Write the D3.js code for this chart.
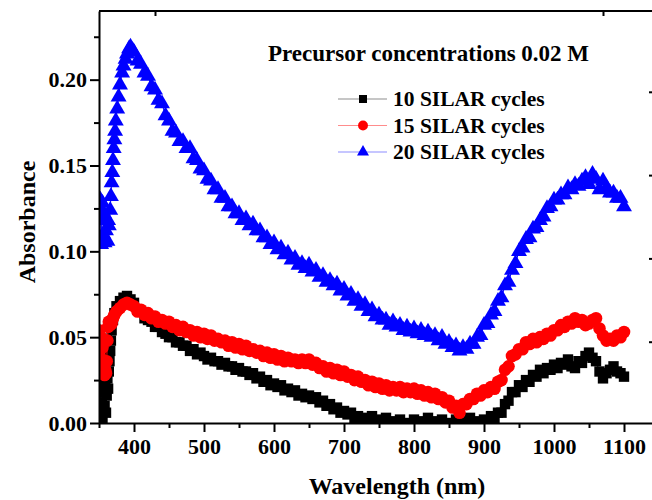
<!DOCTYPE html>
<html>
<head>
<meta charset="utf-8">
<script src="https://cdn.jsdelivr.net/npm/d3@7"></script>
<style>
  html, body { margin: 0; padding: 0; background: #fff; }
  svg { display: block; }
  text { font-family: "Liberation Serif", "Times New Roman", serif; font-weight: bold; fill: #000; }
</style>
</head>
<body>
<svg id="chart" width="652" height="500"></svg>
<script>
// Absorbance spectra (wavelength in nm, absorbance)
const cycles10 = [
  [350,0.008],[351,0.022],[352,0.004],[353,0.028],[354,0.012],[355,0.002],[356,0.018],[357,0.030],[358,0.010],[359,0.024],
  [360,0.006],[361,0.016],[362,0.026],[363,0.020],[364,0.030],[365,0.036],[366,0.042],[367,0.048],[368,0.054],[370,0.060],
  [372,0.064],[375,0.068],[380,0.071],[385,0.073],[390,0.074],[395,0.072],[400,0.070],[405,0.066],[410,0.065],[415,0.061],
  [420,0.060],[425,0.059],[430,0.056],[435,0.056],[440,0.053],[445,0.052],[450,0.050],[455,0.050],[460,0.047],[465,0.047],
  [470,0.045],[475,0.045],[480,0.042],[485,0.043],[490,0.040],[495,0.041],[500,0.039],[505,0.037],[510,0.038],[515,0.036],
  [520,0.036],[525,0.034],[530,0.035],[535,0.033],[540,0.033],[545,0.031],[550,0.032],[555,0.030],[560,0.030],[565,0.028],
  [570,0.029],[575,0.026],[580,0.027],[585,0.024],[590,0.025],[595,0.022],[600,0.023],[605,0.021],[610,0.022],[615,0.019],
  [620,0.020],[625,0.018],[630,0.019],[635,0.016],[640,0.017],[645,0.015],[650,0.016],[655,0.014],[660,0.015],[665,0.012],
  [670,0.013],[675,0.010],[680,0.011],[685,0.008],[690,0.009],[695,0.006],[700,0.007],[705,0.005],[710,0.006],[715,0.003],
  [720,0.004],[725,0.002],[730,0.003],[735,0.002],[740,0.004],[745,0.001],[750,0.002],[755,0.001],[760,0.003],[770,0.001],
  [780,0.002],[790,0.000],[800,0.002],[810,0.001],[820,0.003],[830,0.001],[840,0.002],[850,0.000],[860,0.002],[870,0.001],
  [880,0.003],[890,0.001],[900,0.002],[905,0.001],[910,0.004],[915,0.003],[920,0.006],[925,0.006],[930,0.011],[935,0.013],
  [940,0.018],[945,0.018],[950,0.022],[955,0.021],[960,0.025],[965,0.024],[970,0.028],[975,0.027],[980,0.031],[985,0.029],
  [990,0.032],[995,0.031],[1000,0.034],[1005,0.032],[1010,0.035],[1015,0.034],[1020,0.037],[1025,0.033],[1030,0.032],[1035,0.036],
  [1040,0.035],[1045,0.039],[1050,0.041],[1055,0.038],[1060,0.036],[1065,0.030],[1070,0.026],[1075,0.029],[1080,0.031],[1085,0.033],
  [1090,0.030],[1095,0.029],[1100,0.027]
];

const cycles15 = [
  [350,0.054],[351,0.046],[352,0.038],[353,0.050],[354,0.034],[355,0.044],[356,0.030],[357,0.036],[358,0.028],[359,0.031],
  [360,0.029],[361,0.036],[362,0.048],[363,0.056],[364,0.059],[366,0.057],[368,0.058],[370,0.061],[372,0.063],[375,0.065],
  [380,0.067],[385,0.069],[390,0.070],[395,0.069],[400,0.068],[405,0.065],[410,0.066],[415,0.063],[420,0.064],[425,0.061],
  [430,0.062],[435,0.059],[440,0.060],[445,0.058],[450,0.059],[455,0.056],[460,0.057],[465,0.054],[470,0.056],[475,0.053],
  [480,0.054],[485,0.051],[490,0.053],[495,0.050],[500,0.052],[505,0.049],[510,0.051],[515,0.048],[520,0.049],[525,0.047],
  [530,0.048],[535,0.045],[540,0.047],[545,0.044],[550,0.046],[555,0.043],[560,0.045],[565,0.042],[570,0.043],[575,0.041],
  [580,0.042],[585,0.039],[590,0.041],[595,0.038],[600,0.040],[605,0.037],[610,0.039],[615,0.036],[620,0.038],[625,0.036],
  [630,0.037],[635,0.035],[640,0.037],[645,0.035],[650,0.037],[655,0.034],[660,0.035],[665,0.032],[670,0.033],[675,0.030],
  [680,0.032],[685,0.029],[690,0.031],[695,0.028],[700,0.030],[705,0.027],[710,0.028],[715,0.025],[720,0.027],[725,0.024],
  [730,0.025],[735,0.022],[740,0.024],[745,0.021],[750,0.023],[755,0.020],[760,0.022],[765,0.019],[770,0.021],[775,0.019],
  [780,0.021],[785,0.018],[790,0.020],[795,0.018],[800,0.020],[805,0.017],[810,0.019],[815,0.016],[820,0.018],[825,0.015],
  [830,0.017],[835,0.014],[840,0.015],[845,0.012],[850,0.013],[855,0.009],[860,0.010],[865,0.006],[870,0.011],[875,0.011],
  [880,0.014],[885,0.014],[890,0.017],[895,0.016],[900,0.019],[905,0.018],[910,0.021],[915,0.020],[920,0.024],[925,0.025],
  [930,0.031],[935,0.033],[940,0.039],[945,0.040],[950,0.043],[955,0.043],[960,0.047],[965,0.046],[970,0.049],[975,0.047],
  [980,0.050],[985,0.049],[990,0.052],[995,0.051],[1000,0.054],[1005,0.054],[1010,0.057],[1015,0.056],[1020,0.059],[1025,0.058],
  [1030,0.061],[1035,0.059],[1040,0.060],[1045,0.057],[1050,0.058],[1055,0.060],[1060,0.061],[1065,0.055],[1070,0.051],[1075,0.048],
  [1080,0.049],[1085,0.048],[1090,0.051],[1095,0.050],[1100,0.053]
];

const cycles20 = [
  [350,0.125],[351,0.108],[352,0.130],[353,0.104],[354,0.118],[355,0.128],[356,0.110],[357,0.122],[358,0.105],[360,0.112],
  [362,0.106],[363,0.118],[364,0.115],[366,0.124],[367,0.132],[368,0.140],[369,0.146],[370,0.153],[371,0.160],[372,0.165],
  [373,0.170],[374,0.176],[376,0.183],[378,0.190],[380,0.197],[383,0.204],[385,0.208],[388,0.212],[390,0.215],[393,0.218],
  [395,0.219],[398,0.217],[400,0.216],[405,0.211],[410,0.209],[415,0.204],[420,0.202],[425,0.196],[430,0.194],[435,0.188],
  [440,0.186],[445,0.179],[450,0.176],[455,0.170],[460,0.169],[465,0.164],[470,0.164],[475,0.160],[480,0.160],[485,0.154],
  [490,0.153],[495,0.148],[500,0.147],[505,0.142],[510,0.141],[515,0.136],[520,0.136],[525,0.131],[530,0.131],[535,0.126],
  [540,0.126],[545,0.122],[550,0.122],[555,0.118],[560,0.119],[565,0.115],[570,0.116],[575,0.112],[580,0.112],[585,0.108],
  [590,0.108],[595,0.104],[600,0.105],[605,0.101],[610,0.102],[615,0.098],[620,0.099],[625,0.095],[630,0.096],[635,0.092],
  [640,0.093],[645,0.090],[650,0.092],[655,0.088],[660,0.089],[665,0.085],[670,0.086],[675,0.082],[680,0.083],[685,0.080],
  [690,0.081],[695,0.077],[700,0.078],[705,0.074],[710,0.075],[715,0.071],[720,0.072],[725,0.068],[730,0.069],[735,0.065],
  [740,0.066],[745,0.062],[750,0.063],[755,0.060],[760,0.060],[765,0.057],[770,0.059],[775,0.056],[780,0.057],[785,0.054],
  [790,0.056],[795,0.053],[800,0.055],[805,0.052],[810,0.054],[815,0.051],[820,0.053],[825,0.050],[830,0.051],[835,0.048],
  [840,0.050],[845,0.046],[850,0.047],[855,0.044],[860,0.045],[865,0.042],[870,0.044],[875,0.043],[880,0.046],[885,0.046],
  [890,0.050],[895,0.051],[900,0.057],[905,0.058],[910,0.063],[915,0.065],[920,0.071],[925,0.073],[930,0.080],[935,0.082],
  [940,0.089],[945,0.093],[950,0.100],[955,0.102],[960,0.107],[965,0.108],[970,0.113],[975,0.114],[980,0.118],[985,0.120],
  [990,0.125],[995,0.126],[1000,0.130],[1005,0.130],[1010,0.133],[1015,0.133],[1020,0.137],[1025,0.136],[1030,0.139],[1035,0.138],
  [1040,0.141],[1045,0.143],[1050,0.139],[1055,0.145],[1060,0.142],[1065,0.136],[1070,0.141],[1075,0.137],[1080,0.134],[1085,0.134],
  [1090,0.131],[1095,0.131],[1100,0.126]
];

const seriesNames = ["10 SILAR cycles", "15 SILAR cycles", "20 SILAR cycles"];
const seriesColors = ["#000000", "#ff0000", "#0000ff"];
const seriesShapes = ["square", "circle", "triangle"];
const xMajorTicks = [400, 500, 600, 700, 800, 900, 1000, 1100];
const xMinorTicks = [350, 450, 550, 650, 750, 850, 950, 1050];
const yMajorTicks = [0.00, 0.05, 0.10, 0.15, 0.20];
const yMinorTicks = [0.025, 0.075, 0.125, 0.175, 0.225];
const topTicks = [0, 1];
const rightTicks = [1, 2, 3, 4];
const chartTitle = "Precursor concentrations 0.02 M";
const xTitle = "Wavelength (nm)";
const yTitle = "Absorbance";

const svg = d3.select("#chart");
const plotLeft = 99, plotRight = 659, plotTop = 11, plotBottom = 423;

const x = d3.scaleLinear().domain([350, 1150]).range([plotLeft, plotRight]);
const y = d3.scaleLinear().domain([0, 0.24]).range([plotBottom, plotTop]);
// the frame's top and right edges carry their own (unlabelled) tick spacing
const xTop = d3.scaleLinear().domain([0, 1]).range([155, 603]);
const yRight = d3.scaleLinear().domain([0, 5]).range([425, 8.5]);

svg.append("clipPath").attr("id", "clip")
  .append("rect").attr("x", plotLeft).attr("y", plotTop)
  .attr("width", plotRight - plotLeft).attr("height", plotBottom - plotTop);

const symbolFor = {
  square: d3.symbol().type(d3.symbolSquare).size(108),
  circle: d3.symbol().type(d3.symbolCircle).size(125),
  triangle: d3.symbol().type(d3.symbolTriangle).size(110)
};
const legendSymbolFor = {
  square: d3.symbol().type(d3.symbolSquare).size(64),
  circle: d3.symbol().type(d3.symbolCircle).size(78),
  triangle: d3.symbol().type(d3.symbolTriangle).size(62)
};

const allSeries = [cycles10, cycles15, cycles20];
const line = d3.line().x(d => x(d[0])).y(d => y(d[1]));

const marks = svg.append("g").attr("clip-path", "url(#clip)");
allSeries.forEach((data, i) => {
  const g = marks.append("g");
  g.append("path").datum(data).attr("d", line)
    .attr("fill", "none").attr("stroke", seriesColors[i]).attr("stroke-width", 1);
  g.selectAll("path.pt").data(data).enter().append("path")
    .attr("class", "pt")
    .attr("transform", d => `translate(${x(d[0])},${y(d[1])})`)
    .attr("d", symbolFor[seriesShapes[i]]())
    .attr("fill", seriesColors[i]);
});

// Axes
function styleAxis(g) {
  g.selectAll(".domain").attr("stroke", "#000").attr("stroke-width", 2);
  g.selectAll(".tick line").attr("stroke", "#000").attr("stroke-width", 2);
  g.selectAll("text").style("font-size", "22px").attr("fill", "#000");
}
function styleMinor(g) {
  g.select(".domain").remove();
  g.selectAll(".tick line").attr("stroke", "#000").attr("stroke-width", 2);
}

const xAxis = svg.append("g").attr("transform", `translate(0,${plotBottom})`)
  .call(d3.axisBottom(x).tickValues(xMajorTicks).tickFormat(d3.format("d")).tickSizeInner(9).tickSizeOuter(0).tickPadding(6));
styleAxis(xAxis);
svg.append("g").attr("transform", `translate(0,${plotBottom})`)
  .call(d3.axisBottom(x).tickValues(xMinorTicks).tickFormat("").tickSizeInner(5).tickSizeOuter(0))
  .call(styleMinor);

const yAxis = svg.append("g").attr("transform", `translate(${plotLeft},0)`)
  .call(d3.axisLeft(y).tickValues(yMajorTicks).tickFormat(d3.format(".2f")).tickSizeInner(9).tickSizeOuter(0).tickPadding(3));
styleAxis(yAxis);
svg.append("g").attr("transform", `translate(${plotLeft},0)`)
  .call(d3.axisLeft(y).tickValues(yMinorTicks).tickFormat("").tickSizeInner(5).tickSizeOuter(0))
  .call(styleMinor);

// Frame: top and right edges with inward ticks
svg.append("line").attr("x1", plotLeft).attr("x2", plotRight).attr("y1", plotTop).attr("y2", plotTop)
  .attr("stroke", "#000").attr("stroke-width", 2);
svg.append("line").attr("x1", plotRight).attr("x2", plotRight).attr("y1", plotTop).attr("y2", plotBottom)
  .attr("stroke", "#000").attr("stroke-width", 2);
svg.append("g").attr("transform", `translate(0,${plotTop})`)
  .call(d3.axisTop(xTop).tickValues(topTicks).tickFormat("").tickSizeInner(-5).tickSizeOuter(0))
  .call(styleMinor);
svg.append("g").attr("transform", `translate(${plotRight},0)`)
  .call(d3.axisRight(yRight).tickValues(rightTicks).tickFormat("").tickSizeInner(-10).tickSizeOuter(0))
  .call(styleMinor);

// Titles
svg.append("text").attr("x", 397).attr("y", 494).attr("text-anchor", "middle")
  .style("font-size", "24px").text(xTitle);
svg.append("text").attr("transform", "translate(35,222) rotate(-90)").attr("text-anchor", "middle")
  .style("font-size", "24px").text(yTitle);
svg.append("text").attr("x", 268).attr("y", 61).style("font-size", "23px").text(chartTitle);

// Legend
const legend = svg.append("g");
seriesNames.forEach((name, i) => {
  const cy = 99 + i * 26.5;
  legend.append("line").attr("x1", 338).attr("x2", 387).attr("y1", cy).attr("y2", cy)
    .attr("stroke", seriesColors[i]).attr("stroke-opacity", 0.45).attr("stroke-width", 1.2);
  legend.append("path").attr("transform", `translate(363,${cy})`)
    .attr("d", legendSymbolFor[seriesShapes[i]]()).attr("fill", seriesColors[i]);
  legend.append("text").attr("x", 393).attr("y", cy + 7).style("font-size", "21.5px").text(name);
});
</script>
</body>
</html>
